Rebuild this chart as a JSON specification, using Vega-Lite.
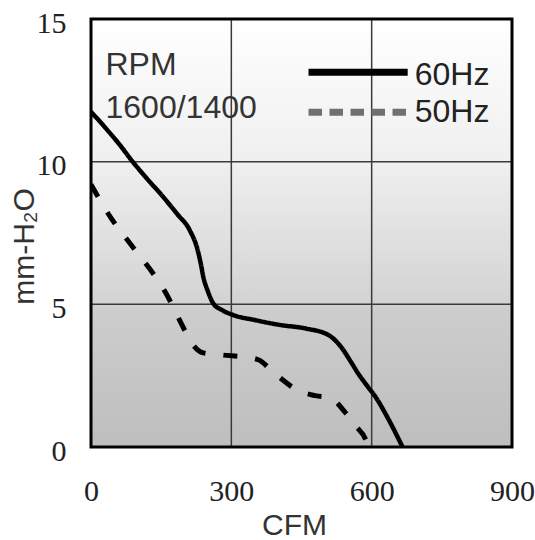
{
  "$schema": "https://vega.github.io/schema/vega-lite/v6.json",
  "autosize": "none",
  "width": 421,
  "height": 428,
  "padding": {"left": 91, "top": 19, "right": 23, "bottom": 93},
  "background": "white",
  "config": {"view": {"stroke": null}},
  "data": {"values": [{}]},
  "layer": [
    {
      "mark": {"type": "rect", "color": {"gradient": "linear", "x1": 0, "y1": 0, "x2": 0, "y2": 1, "stops": [
        {"offset": 0, "color": "#ffffff"},
        {"offset": 0.34, "color": "#efefef"},
        {"offset": 0.66, "color": "#d3d3d3"},
        {"offset": 0.68, "color": "#cdcdcd"},
        {"offset": 1, "color": "#bebebe"}
      ]}},
      "encoding": {
        "x": {"datum": 0, "type": "quantitative", "scale": {"domain": [0, 900], "nice": false},
          "axis": {"title": "CFM", "values": [0, 300, 600, 900], "grid": false, "domain": false, "ticks": false, "tickSize": 0,
            "labelFlush": false, "labelOverlap": false, "labelBound": false,
            "labelFont": "Liberation Serif", "labelFontSize": 30, "labelColor": "#222", "labelPadding": 29,
            "titleFont": "Liberation Sans", "titleFontSize": 30, "titleFontWeight": "normal", "titleColor": "#333",
            "titleBaseline": "alphabetic", "titleX": 203, "titleY": 87, "titleAlign": "center"}},
        "x2": {"datum": 900},
        "y": {"datum": 0, "type": "quantitative", "scale": {"domain": [0, 15], "nice": false},
          "axis": {"title": "mm-H₂O", "values": [0, 5, 10, 15], "grid": false, "domain": false, "ticks": false, "tickSize": 0,
            "labelFlush": false, "labelOverlap": false, "labelBound": false,
            "labelFont": "Liberation Serif", "labelFontSize": 30, "labelColor": "#222", "labelPadding": 25, "labelOffset": 4,
            "titleFont": "Liberation Sans", "titleFontSize": 30, "titleFontWeight": "normal", "titleColor": "#333",
            "titleX": -67, "titleY": 227, "titleAngle": -90, "titleAlign": "center", "titleBaseline": "middle"}},
        "y2": {"datum": 15}
      }
    },
    {
      "data": {"values": [{"v": 300}, {"v": 600}]},
      "mark": {"type": "rule", "color": "#3a3a3a", "strokeWidth": 1.5},
      "encoding": {"x": {"field": "v", "type": "quantitative"}}
    },
    {
      "data": {"values": [{"v": 5}, {"v": 10}]},
      "mark": {"type": "rule", "color": "#3a3a3a", "strokeWidth": 1.5},
      "encoding": {"y": {"field": "v", "type": "quantitative"}}
    },
    {
      "data": {"values": [
        {"series": "60Hz", "cfm": 0, "p": 11.75},
        {"series": "60Hz", "cfm": 30, "p": 11.2},
        {"series": "60Hz", "cfm": 60, "p": 10.62},
        {"series": "60Hz", "cfm": 89, "p": 10.0},
        {"series": "60Hz", "cfm": 120, "p": 9.4},
        {"series": "60Hz", "cfm": 154, "p": 8.77},
        {"series": "60Hz", "cfm": 185, "p": 8.15},
        {"series": "60Hz", "cfm": 211, "p": 7.6},
        {"series": "60Hz", "cfm": 228, "p": 6.9},
        {"series": "60Hz", "cfm": 235, "p": 6.4},
        {"series": "60Hz", "cfm": 240, "p": 5.97},
        {"series": "60Hz", "cfm": 250, "p": 5.45},
        {"series": "60Hz", "cfm": 261, "p": 5.04},
        {"series": "60Hz", "cfm": 280, "p": 4.8},
        {"series": "60Hz", "cfm": 303, "p": 4.63},
        {"series": "60Hz", "cfm": 350, "p": 4.45},
        {"series": "60Hz", "cfm": 403, "p": 4.28},
        {"series": "60Hz", "cfm": 460, "p": 4.15},
        {"series": "60Hz", "cfm": 507, "p": 3.93},
        {"series": "60Hz", "cfm": 534, "p": 3.52},
        {"series": "60Hz", "cfm": 555, "p": 3.0},
        {"series": "60Hz", "cfm": 571, "p": 2.58},
        {"series": "60Hz", "cfm": 590, "p": 2.15},
        {"series": "60Hz", "cfm": 608, "p": 1.76},
        {"series": "60Hz", "cfm": 635, "p": 1.0},
        {"series": "60Hz", "cfm": 666, "p": 0},
        {"series": "50Hz", "cfm": 0, "p": 9.2},
        {"series": "50Hz", "cfm": 43, "p": 8.02},
        {"series": "50Hz", "cfm": 86, "p": 7.08},
        {"series": "50Hz", "cfm": 140, "p": 5.91},
        {"series": "50Hz", "cfm": 160, "p": 5.4},
        {"series": "50Hz", "cfm": 182, "p": 4.69},
        {"series": "50Hz", "cfm": 200, "p": 4.1},
        {"series": "50Hz", "cfm": 218, "p": 3.58},
        {"series": "50Hz", "cfm": 240, "p": 3.3},
        {"series": "50Hz", "cfm": 283, "p": 3.22},
        {"series": "50Hz", "cfm": 330, "p": 3.15},
        {"series": "50Hz", "cfm": 359, "p": 3.05},
        {"series": "50Hz", "cfm": 381, "p": 2.76},
        {"series": "50Hz", "cfm": 410, "p": 2.35},
        {"series": "50Hz", "cfm": 440, "p": 2.0},
        {"series": "50Hz", "cfm": 480, "p": 1.8},
        {"series": "50Hz", "cfm": 513, "p": 1.71},
        {"series": "50Hz", "cfm": 542, "p": 1.24},
        {"series": "50Hz", "cfm": 565, "p": 0.75},
        {"series": "50Hz", "cfm": 589, "p": 0.19},
        {"series": "50Hz", "cfm": 593, "p": 0}
      ]},
      "mark": {"type": "line", "color": "black", "interpolate": "monotone", "clip": true},
      "encoding": {
        "x": {"field": "cfm", "type": "quantitative"},
        "y": {"field": "p", "type": "quantitative"},
        "detail": {"field": "series"},
        "strokeDash": {"field": "series", "type": "nominal", "scale": {"domain": ["60Hz", "50Hz"], "range": [[1, 0], [14, 18]]}, "legend": null},
        "strokeWidth": {"field": "series", "type": "nominal", "scale": {"domain": ["60Hz", "50Hz"], "range": [4.5, 5]}, "legend": null}
      }
    },
    {
      "mark": {"type": "rect", "fill": null, "fillOpacity": 0, "stroke": "black", "strokeWidth": 3},
      "encoding": {
        "x": {"datum": 0, "type": "quantitative"},
        "x2": {"datum": 900},
        "y": {"datum": 0, "type": "quantitative"},
        "y2": {"datum": 15}
      }
    },
    {
      "mark": {"type": "rule", "color": "black", "strokeWidth": 7},
      "encoding": {
        "x": {"datum": 465, "type": "quantitative"},
        "x2": {"datum": 677},
        "y": {"datum": 13.13, "type": "quantitative"}
      }
    },
    {
      "mark": {"type": "rule", "color": "#707070", "strokeWidth": 7, "strokeDash": [13.5, 7.5]},
      "encoding": {
        "x": {"datum": 465, "type": "quantitative"},
        "x2": {"datum": 677},
        "y": {"datum": 11.73, "type": "quantitative"}
      }
    },
    {
      "mark": {"type": "text", "text": "60Hz", "font": "Liberation Sans", "fontSize": 32, "color": "#222", "align": "left", "baseline": "alphabetic"},
      "encoding": {
        "x": {"datum": 692, "type": "quantitative"},
        "y": {"datum": 12.69, "type": "quantitative"}
      }
    },
    {
      "mark": {"type": "text", "text": "50Hz", "font": "Liberation Sans", "fontSize": 32, "color": "#222", "align": "left", "baseline": "alphabetic"},
      "encoding": {
        "x": {"datum": 692, "type": "quantitative"},
        "y": {"datum": 11.4, "type": "quantitative"}
      }
    },
    {
      "mark": {"type": "text", "text": "RPM", "font": "Liberation Sans", "fontSize": 32, "color": "#333", "align": "left", "baseline": "alphabetic"},
      "encoding": {
        "x": {"datum": 31, "type": "quantitative"},
        "y": {"datum": 13.04, "type": "quantitative"}
      }
    },
    {
      "mark": {"type": "text", "text": "1600/1400", "font": "Liberation Sans", "fontSize": 32, "color": "#333", "align": "left", "baseline": "alphabetic"},
      "encoding": {
        "x": {"datum": 31, "type": "quantitative"},
        "y": {"datum": 11.52, "type": "quantitative"}
      }
    }
  ]
}
